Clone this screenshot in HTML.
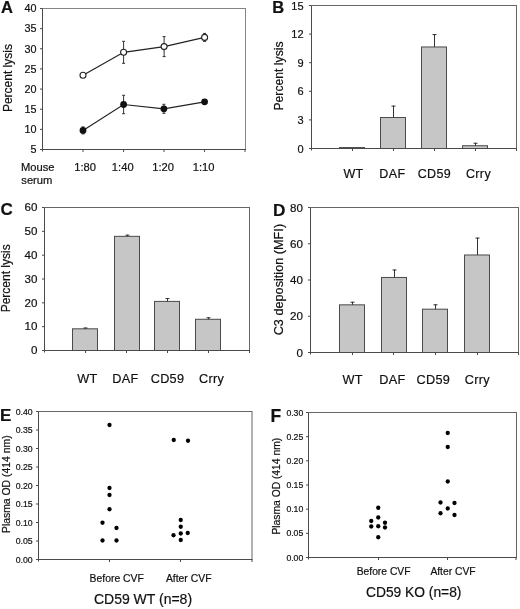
<!DOCTYPE html>
<html><head><meta charset="utf-8"><title>Figure</title>
<style>
html,body{margin:0;padding:0;background:#fff;}
body{width:520px;height:609px;overflow:hidden;}
svg{display:block;will-change:transform;font-family:"Liberation Sans",sans-serif;}
text{fill:#111;stroke:#111;stroke-width:0.2px;}
</style></head><body>
<svg width="520" height="609" viewBox="0 0 520 609">
<rect width="520" height="609" fill="#fff"/>
<line x1="42.5" y1="8.5" x2="245.5" y2="8.5" stroke="#858585" stroke-width="1"/>
<line x1="245.5" y1="8.0" x2="245.5" y2="149.5" stroke="#858585" stroke-width="1"/>
<line x1="42.5" y1="8.5" x2="42.5" y2="151.5" stroke="#4a4a4a" stroke-width="1"/>
<line x1="40.5" y1="149.5" x2="246.0" y2="149.5" stroke="#4a4a4a" stroke-width="1"/>
<line x1="40.0" y1="149.5" x2="42.5" y2="149.5" stroke="#4a4a4a" stroke-width="1"/>
<text x="36.4" y="153.3" font-size="10.8" text-anchor="end" font-weight="normal" >5</text>
<line x1="40.0" y1="129.35714285714286" x2="42.5" y2="129.35714285714286" stroke="#4a4a4a" stroke-width="1"/>
<text x="36.4" y="133.15714285714287" font-size="10.8" text-anchor="end" font-weight="normal" >10</text>
<line x1="40.0" y1="109.21428571428572" x2="42.5" y2="109.21428571428572" stroke="#4a4a4a" stroke-width="1"/>
<text x="36.4" y="113.01428571428572" font-size="10.8" text-anchor="end" font-weight="normal" >15</text>
<line x1="40.0" y1="89.07142857142857" x2="42.5" y2="89.07142857142857" stroke="#4a4a4a" stroke-width="1"/>
<text x="36.4" y="92.87142857142857" font-size="10.8" text-anchor="end" font-weight="normal" >20</text>
<line x1="40.0" y1="68.92857142857143" x2="42.5" y2="68.92857142857143" stroke="#4a4a4a" stroke-width="1"/>
<text x="36.4" y="72.72857142857143" font-size="10.8" text-anchor="end" font-weight="normal" >25</text>
<line x1="40.0" y1="48.78571428571429" x2="42.5" y2="48.78571428571429" stroke="#4a4a4a" stroke-width="1"/>
<text x="36.4" y="52.58571428571429" font-size="10.8" text-anchor="end" font-weight="normal" >30</text>
<line x1="40.0" y1="28.64285714285714" x2="42.5" y2="28.64285714285714" stroke="#4a4a4a" stroke-width="1"/>
<text x="36.4" y="32.442857142857136" font-size="10.8" text-anchor="end" font-weight="normal" >35</text>
<line x1="40.0" y1="8.5" x2="42.5" y2="8.5" stroke="#4a4a4a" stroke-width="1"/>
<text x="36.4" y="12.3" font-size="10.8" text-anchor="end" font-weight="normal" >40</text>
<line x1="83" y1="149.5" x2="83" y2="152.0" stroke="#4a4a4a" stroke-width="1"/>
<line x1="123.6" y1="149.5" x2="123.6" y2="152.0" stroke="#4a4a4a" stroke-width="1"/>
<line x1="164" y1="149.5" x2="164" y2="152.0" stroke="#4a4a4a" stroke-width="1"/>
<line x1="204.6" y1="149.5" x2="204.6" y2="152.0" stroke="#4a4a4a" stroke-width="1"/>
<line x1="245" y1="149.5" x2="245" y2="152.0" stroke="#4a4a4a" stroke-width="1"/>
<text x="1" y="12.8" font-size="16.5" text-anchor="start" font-weight="bold" >A</text>
<text transform="translate(11.5,78.1) rotate(-90)" font-size="12" text-anchor="middle">Percent lysis</text>
<text x="21.0" y="171.4" font-size="11.2" text-anchor="start" font-weight="normal" >Mouse</text>
<text x="21.3" y="183.6" font-size="11.2" text-anchor="start" font-weight="normal" >serum</text>
<text x="85.1" y="171.3" font-size="11.2" text-anchor="middle" font-weight="normal" >1:80</text>
<text x="122.75" y="171.3" font-size="11.2" text-anchor="middle" font-weight="normal" >1:40</text>
<text x="163.1" y="171.3" font-size="11.2" text-anchor="middle" font-weight="normal" >1:20</text>
<text x="203.6" y="171.3" font-size="11.2" text-anchor="middle" font-weight="normal" >1:10</text>
<path d="M83,75.2 L123.6,52.3 L164.1,46.6 L204.6,37.4" fill="none" stroke="#222" stroke-width="1.2"/>
<line x1="123.6" y1="41.3" x2="123.6" y2="63.3" stroke="#333" stroke-width="1"/>
<line x1="122.1" y1="41.3" x2="125.1" y2="41.3" stroke="#333" stroke-width="1"/>
<line x1="122.1" y1="63.3" x2="125.1" y2="63.3" stroke="#333" stroke-width="1"/>
<line x1="164.1" y1="36.6" x2="164.1" y2="56.6" stroke="#333" stroke-width="1"/>
<line x1="162.6" y1="36.6" x2="165.6" y2="36.6" stroke="#333" stroke-width="1"/>
<line x1="162.6" y1="56.6" x2="165.6" y2="56.6" stroke="#333" stroke-width="1"/>
<line x1="204.6" y1="33.4" x2="204.6" y2="41.4" stroke="#333" stroke-width="1"/>
<line x1="203.1" y1="33.4" x2="206.1" y2="33.4" stroke="#333" stroke-width="1"/>
<line x1="203.1" y1="41.4" x2="206.1" y2="41.4" stroke="#333" stroke-width="1"/>
<path d="M83,130.4 L123.6,104.5 L163.9,108.8 L204.6,101.8" fill="none" stroke="#222" stroke-width="1.2"/>
<line x1="83" y1="126.9" x2="83" y2="133.9" stroke="#333" stroke-width="1"/>
<line x1="81.5" y1="126.9" x2="84.5" y2="126.9" stroke="#333" stroke-width="1"/>
<line x1="81.5" y1="133.9" x2="84.5" y2="133.9" stroke="#333" stroke-width="1"/>
<line x1="123.6" y1="95.3" x2="123.6" y2="113.7" stroke="#333" stroke-width="1"/>
<line x1="122.1" y1="95.3" x2="125.1" y2="95.3" stroke="#333" stroke-width="1"/>
<line x1="122.1" y1="113.7" x2="125.1" y2="113.7" stroke="#333" stroke-width="1"/>
<line x1="163.9" y1="104.3" x2="163.9" y2="113.3" stroke="#333" stroke-width="1"/>
<line x1="162.4" y1="104.3" x2="165.4" y2="104.3" stroke="#333" stroke-width="1"/>
<line x1="162.4" y1="113.3" x2="165.4" y2="113.3" stroke="#333" stroke-width="1"/>
<circle cx="83" cy="75.2" r="3" fill="#fff" stroke="#222" stroke-width="1.1"/>
<circle cx="123.6" cy="52.3" r="3" fill="#fff" stroke="#222" stroke-width="1.1"/>
<circle cx="164.1" cy="46.6" r="3" fill="#fff" stroke="#222" stroke-width="1.1"/>
<circle cx="204.6" cy="37.4" r="3" fill="#fff" stroke="#222" stroke-width="1.1"/>
<circle cx="83" cy="130.4" r="3.4" fill="#111"/>
<circle cx="123.6" cy="104.5" r="3.4" fill="#111"/>
<circle cx="163.9" cy="108.8" r="3.4" fill="#111"/>
<circle cx="204.6" cy="101.8" r="3.4" fill="#111"/>
<line x1="311.5" y1="5.5" x2="516.5" y2="5.5" stroke="#666666" stroke-width="1"/>
<line x1="516.5" y1="5.0" x2="516.5" y2="148.5" stroke="#666666" stroke-width="1"/>
<line x1="311.5" y1="5.5" x2="311.5" y2="150.5" stroke="#4a4a4a" stroke-width="1"/>
<line x1="309.5" y1="148.5" x2="517.0" y2="148.5" stroke="#4a4a4a" stroke-width="1"/>
<line x1="309.0" y1="148.5" x2="311.5" y2="148.5" stroke="#4a4a4a" stroke-width="1"/>
<text x="303.6" y="152.5" font-size="11" text-anchor="end" font-weight="normal" >0</text>
<line x1="309.0" y1="119.9" x2="311.5" y2="119.9" stroke="#4a4a4a" stroke-width="1"/>
<text x="303.6" y="123.9" font-size="11" text-anchor="end" font-weight="normal" >3</text>
<line x1="309.0" y1="91.3" x2="311.5" y2="91.3" stroke="#4a4a4a" stroke-width="1"/>
<text x="303.6" y="95.3" font-size="11" text-anchor="end" font-weight="normal" >6</text>
<line x1="309.0" y1="62.7" x2="311.5" y2="62.7" stroke="#4a4a4a" stroke-width="1"/>
<text x="303.6" y="66.7" font-size="11" text-anchor="end" font-weight="normal" >9</text>
<line x1="309.0" y1="34.099999999999994" x2="311.5" y2="34.099999999999994" stroke="#4a4a4a" stroke-width="1"/>
<text x="303.6" y="38.099999999999994" font-size="11" text-anchor="end" font-weight="normal" >12</text>
<line x1="309.0" y1="5.5" x2="311.5" y2="5.5" stroke="#4a4a4a" stroke-width="1"/>
<text x="303.6" y="9.5" font-size="11" text-anchor="end" font-weight="normal" >15</text>
<text x="272.2" y="13.0" font-size="16.5" text-anchor="start" font-weight="bold" >B</text>
<text transform="translate(282.5,76.0) rotate(-90)" font-size="12.2" text-anchor="middle">Percent lysis</text>
<rect x="339.5" y="147.54666666666665" width="25.0" height="0.9533333333333474" fill="#c6c6c6" stroke="#4a4a4a" stroke-width="1"/>
<rect x="380.5" y="117.51666666666667" width="25.0" height="30.983333333333334" fill="#c6c6c6" stroke="#4a4a4a" stroke-width="1"/>
<line x1="393.5" y1="105.6" x2="393.5" y2="117.51666666666667" stroke="#333" stroke-width="1"/>
<line x1="391.5" y1="106.1" x2="395.5" y2="106.1" stroke="#333" stroke-width="1"/>
<rect x="421.5" y="46.97" width="25.0" height="101.53" fill="#c6c6c6" stroke="#4a4a4a" stroke-width="1"/>
<line x1="434.5" y1="34.099999999999994" x2="434.5" y2="46.97" stroke="#333" stroke-width="1"/>
<line x1="432.5" y1="34.599999999999994" x2="436.5" y2="34.599999999999994" stroke="#333" stroke-width="1"/>
<rect x="462.5" y="145.73533333333333" width="25.0" height="2.7646666666666704" fill="#c6c6c6" stroke="#4a4a4a" stroke-width="1"/>
<line x1="475.5" y1="142.78" x2="475.5" y2="145.73533333333333" stroke="#333" stroke-width="1"/>
<line x1="473.5" y1="143.28" x2="477.5" y2="143.28" stroke="#333" stroke-width="1"/>
<line x1="352.5" y1="148.5" x2="352.5" y2="151.0" stroke="#4a4a4a" stroke-width="1"/>
<line x1="393.5" y1="148.5" x2="393.5" y2="151.0" stroke="#4a4a4a" stroke-width="1"/>
<line x1="434.5" y1="148.5" x2="434.5" y2="151.0" stroke="#4a4a4a" stroke-width="1"/>
<line x1="475.5" y1="148.5" x2="475.5" y2="151.0" stroke="#4a4a4a" stroke-width="1"/>
<line x1="516.5" y1="148.5" x2="516.5" y2="151.0" stroke="#4a4a4a" stroke-width="1"/>
<text x="353.5" y="177.8" font-size="12.5" text-anchor="middle" font-weight="normal" letter-spacing="0.35">WT</text>
<text x="392.4" y="177.8" font-size="12.5" text-anchor="middle" font-weight="normal" letter-spacing="0.35">DAF</text>
<text x="434.4" y="177.8" font-size="12.5" text-anchor="middle" font-weight="normal" letter-spacing="0.35">CD59</text>
<text x="478.5" y="177.8" font-size="12.5" text-anchor="middle" font-weight="normal" letter-spacing="0.35">Crry</text>
<line x1="44.5" y1="207.5" x2="249.5" y2="207.5" stroke="#666666" stroke-width="1"/>
<line x1="249.5" y1="207.0" x2="249.5" y2="350.5" stroke="#666666" stroke-width="1"/>
<line x1="44.5" y1="207.5" x2="44.5" y2="352.5" stroke="#4a4a4a" stroke-width="1"/>
<line x1="42.5" y1="350.5" x2="250.0" y2="350.5" stroke="#4a4a4a" stroke-width="1"/>
<line x1="42.0" y1="350.5" x2="44.5" y2="350.5" stroke="#4a4a4a" stroke-width="1"/>
<text x="37.5" y="354.2" font-size="11.6" text-anchor="end" font-weight="normal" >0</text>
<line x1="42.0" y1="326.6666666666667" x2="44.5" y2="326.6666666666667" stroke="#4a4a4a" stroke-width="1"/>
<text x="37.5" y="330.3666666666667" font-size="11.6" text-anchor="end" font-weight="normal" >10</text>
<line x1="42.0" y1="302.8333333333333" x2="44.5" y2="302.8333333333333" stroke="#4a4a4a" stroke-width="1"/>
<text x="37.5" y="306.5333333333333" font-size="11.6" text-anchor="end" font-weight="normal" >20</text>
<line x1="42.0" y1="279.0" x2="44.5" y2="279.0" stroke="#4a4a4a" stroke-width="1"/>
<text x="37.5" y="282.7" font-size="11.6" text-anchor="end" font-weight="normal" >30</text>
<line x1="42.0" y1="255.16666666666669" x2="44.5" y2="255.16666666666669" stroke="#4a4a4a" stroke-width="1"/>
<text x="37.5" y="258.8666666666667" font-size="11.6" text-anchor="end" font-weight="normal" >40</text>
<line x1="42.0" y1="231.33333333333331" x2="44.5" y2="231.33333333333331" stroke="#4a4a4a" stroke-width="1"/>
<text x="37.5" y="235.0333333333333" font-size="11.6" text-anchor="end" font-weight="normal" >50</text>
<line x1="42.0" y1="207.5" x2="44.5" y2="207.5" stroke="#4a4a4a" stroke-width="1"/>
<text x="37.5" y="211.2" font-size="11.6" text-anchor="end" font-weight="normal" >60</text>
<text x="0.6" y="215.3" font-size="17" text-anchor="start" font-weight="bold" >C</text>
<text transform="translate(10.4,278.3) rotate(-90)" font-size="12.0" text-anchor="middle">Percent lysis</text>
<rect x="72.5" y="328.81166666666667" width="25.0" height="21.688333333333333" fill="#c6c6c6" stroke="#4a4a4a" stroke-width="1"/>
<line x1="85.5" y1="327.50083333333333" x2="85.5" y2="328.81166666666667" stroke="#333" stroke-width="1"/>
<line x1="83.5" y1="328.00083333333333" x2="87.5" y2="328.00083333333333" stroke="#333" stroke-width="1"/>
<rect x="114.5" y="236.33833333333334" width="25.0" height="114.16166666666666" fill="#c6c6c6" stroke="#4a4a4a" stroke-width="1"/>
<line x1="127.5" y1="234.67000000000002" x2="127.5" y2="236.33833333333334" stroke="#333" stroke-width="1"/>
<line x1="125.5" y1="235.17000000000002" x2="129.5" y2="235.17000000000002" stroke="#333" stroke-width="1"/>
<rect x="154.5" y="301.4033333333333" width="25.0" height="49.09666666666669" fill="#c6c6c6" stroke="#4a4a4a" stroke-width="1"/>
<line x1="167.5" y1="298.06666666666666" x2="167.5" y2="301.4033333333333" stroke="#333" stroke-width="1"/>
<line x1="165.5" y1="298.56666666666666" x2="169.5" y2="298.56666666666666" stroke="#333" stroke-width="1"/>
<rect x="195.5" y="319.2783333333333" width="25.0" height="31.221666666666692" fill="#c6c6c6" stroke="#4a4a4a" stroke-width="1"/>
<line x1="208.5" y1="317.2525" x2="208.5" y2="319.2783333333333" stroke="#333" stroke-width="1"/>
<line x1="206.5" y1="317.7525" x2="210.5" y2="317.7525" stroke="#333" stroke-width="1"/>
<line x1="85.5" y1="350.5" x2="85.5" y2="353.0" stroke="#4a4a4a" stroke-width="1"/>
<line x1="126.5" y1="350.5" x2="126.5" y2="353.0" stroke="#4a4a4a" stroke-width="1"/>
<line x1="167.5" y1="350.5" x2="167.5" y2="353.0" stroke="#4a4a4a" stroke-width="1"/>
<line x1="208.5" y1="350.5" x2="208.5" y2="353.0" stroke="#4a4a4a" stroke-width="1"/>
<line x1="249.5" y1="350.5" x2="249.5" y2="353.0" stroke="#4a4a4a" stroke-width="1"/>
<text x="87.45" y="383.0" font-size="12.7" text-anchor="middle" font-weight="normal" letter-spacing="0.3">WT</text>
<text x="125.5" y="383.0" font-size="12.7" text-anchor="middle" font-weight="normal" letter-spacing="0.3">DAF</text>
<text x="167.5" y="383.0" font-size="12.7" text-anchor="middle" font-weight="normal" letter-spacing="0.3">CD59</text>
<text x="211.7" y="383.0" font-size="12.7" text-anchor="middle" font-weight="normal" letter-spacing="0.3">Crry</text>
<line x1="310.5" y1="207.5" x2="518.5" y2="207.5" stroke="#666666" stroke-width="1"/>
<line x1="518.5" y1="207.0" x2="518.5" y2="352.5" stroke="#666666" stroke-width="1"/>
<line x1="310.5" y1="207.5" x2="310.5" y2="354.5" stroke="#4a4a4a" stroke-width="1"/>
<line x1="308.5" y1="352.5" x2="519.0" y2="352.5" stroke="#4a4a4a" stroke-width="1"/>
<line x1="308.0" y1="352.5" x2="310.5" y2="352.5" stroke="#4a4a4a" stroke-width="1"/>
<text x="303.0" y="356.7" font-size="11.6" text-anchor="end" font-weight="normal" >0</text>
<line x1="308.0" y1="316.25" x2="310.5" y2="316.25" stroke="#4a4a4a" stroke-width="1"/>
<text x="303.0" y="320.45" font-size="11.6" text-anchor="end" font-weight="normal" >20</text>
<line x1="308.0" y1="280.0" x2="310.5" y2="280.0" stroke="#4a4a4a" stroke-width="1"/>
<text x="303.0" y="284.2" font-size="11.6" text-anchor="end" font-weight="normal" >40</text>
<line x1="308.0" y1="243.75" x2="310.5" y2="243.75" stroke="#4a4a4a" stroke-width="1"/>
<text x="303.0" y="247.95" font-size="11.6" text-anchor="end" font-weight="normal" >60</text>
<line x1="308.0" y1="207.5" x2="310.5" y2="207.5" stroke="#4a4a4a" stroke-width="1"/>
<text x="303.0" y="211.7" font-size="11.6" text-anchor="end" font-weight="normal" >80</text>
<text x="273.0" y="215.6" font-size="17.2" text-anchor="start" font-weight="bold" >D</text>
<text transform="translate(283.3,279.6) rotate(-90)" font-size="12.7" text-anchor="middle">C3 deposition (MFI)</text>
<rect x="339.5" y="304.83125" width="25.0" height="47.66874999999999" fill="#c6c6c6" stroke="#4a4a4a" stroke-width="1"/>
<line x1="352.5" y1="301.75" x2="352.5" y2="304.83125" stroke="#333" stroke-width="1"/>
<line x1="350.5" y1="302.25" x2="354.5" y2="302.25" stroke="#333" stroke-width="1"/>
<rect x="381.5" y="277.4625" width="25.0" height="75.03750000000002" fill="#c6c6c6" stroke="#4a4a4a" stroke-width="1"/>
<line x1="394.5" y1="269.4875" x2="394.5" y2="277.4625" stroke="#333" stroke-width="1"/>
<line x1="392.5" y1="269.9875" x2="396.5" y2="269.9875" stroke="#333" stroke-width="1"/>
<rect x="422.5" y="309.18125" width="25.0" height="43.31875000000002" fill="#c6c6c6" stroke="#4a4a4a" stroke-width="1"/>
<line x1="435.5" y1="304.2875" x2="435.5" y2="309.18125" stroke="#333" stroke-width="1"/>
<line x1="433.5" y1="304.7875" x2="437.5" y2="304.7875" stroke="#333" stroke-width="1"/>
<rect x="464.5" y="254.9875" width="25.0" height="97.51249999999999" fill="#c6c6c6" stroke="#4a4a4a" stroke-width="1"/>
<line x1="477.5" y1="237.5875" x2="477.5" y2="254.9875" stroke="#333" stroke-width="1"/>
<line x1="475.5" y1="238.0875" x2="479.5" y2="238.0875" stroke="#333" stroke-width="1"/>
<line x1="352.5" y1="352.5" x2="352.5" y2="355.0" stroke="#4a4a4a" stroke-width="1"/>
<line x1="393.5" y1="352.5" x2="393.5" y2="355.0" stroke="#4a4a4a" stroke-width="1"/>
<line x1="435.5" y1="352.5" x2="435.5" y2="355.0" stroke="#4a4a4a" stroke-width="1"/>
<line x1="477.5" y1="352.5" x2="477.5" y2="355.0" stroke="#4a4a4a" stroke-width="1"/>
<line x1="518.5" y1="352.5" x2="518.5" y2="355.0" stroke="#4a4a4a" stroke-width="1"/>
<text x="352.7" y="383.5" font-size="12.7" text-anchor="middle" font-weight="normal" letter-spacing="0.3">WT</text>
<text x="392.4" y="383.5" font-size="12.7" text-anchor="middle" font-weight="normal" letter-spacing="0.3">DAF</text>
<text x="433.4" y="383.5" font-size="12.7" text-anchor="middle" font-weight="normal" letter-spacing="0.3">CD59</text>
<text x="477.3" y="383.5" font-size="12.7" text-anchor="middle" font-weight="normal" letter-spacing="0.3">Crry</text>
<line x1="38.5" y1="411.5" x2="252.0" y2="411.5" stroke="#666666" stroke-width="1"/>
<line x1="252.0" y1="411.0" x2="252.0" y2="559.5" stroke="#666666" stroke-width="1"/>
<line x1="38.5" y1="411.5" x2="38.5" y2="561.5" stroke="#4a4a4a" stroke-width="1"/>
<line x1="36.5" y1="559.5" x2="252.5" y2="559.5" stroke="#4a4a4a" stroke-width="1"/>
<line x1="36.0" y1="559.5" x2="38.5" y2="559.5" stroke="#4a4a4a" stroke-width="1"/>
<text x="32.6" y="562.6" font-size="8.7" text-anchor="end" font-weight="normal" >0.00</text>
<line x1="36.0" y1="541.0" x2="38.5" y2="541.0" stroke="#4a4a4a" stroke-width="1"/>
<text x="32.6" y="544.1" font-size="8.7" text-anchor="end" font-weight="normal" >0.05</text>
<line x1="36.0" y1="522.5" x2="38.5" y2="522.5" stroke="#4a4a4a" stroke-width="1"/>
<text x="32.6" y="525.6" font-size="8.7" text-anchor="end" font-weight="normal" >0.10</text>
<line x1="36.0" y1="504.0" x2="38.5" y2="504.0" stroke="#4a4a4a" stroke-width="1"/>
<text x="32.6" y="507.1" font-size="8.7" text-anchor="end" font-weight="normal" >0.15</text>
<line x1="36.0" y1="485.5" x2="38.5" y2="485.5" stroke="#4a4a4a" stroke-width="1"/>
<text x="32.6" y="488.6" font-size="8.7" text-anchor="end" font-weight="normal" >0.20</text>
<line x1="36.0" y1="467.0" x2="38.5" y2="467.0" stroke="#4a4a4a" stroke-width="1"/>
<text x="32.6" y="470.1" font-size="8.7" text-anchor="end" font-weight="normal" >0.25</text>
<line x1="36.0" y1="448.5" x2="38.5" y2="448.5" stroke="#4a4a4a" stroke-width="1"/>
<text x="32.6" y="451.6" font-size="8.7" text-anchor="end" font-weight="normal" >0.30</text>
<line x1="36.0" y1="430.0" x2="38.5" y2="430.0" stroke="#4a4a4a" stroke-width="1"/>
<text x="32.6" y="433.1" font-size="8.7" text-anchor="end" font-weight="normal" >0.35</text>
<line x1="36.0" y1="411.5" x2="38.5" y2="411.5" stroke="#4a4a4a" stroke-width="1"/>
<text x="32.6" y="414.6" font-size="8.7" text-anchor="end" font-weight="normal" >0.40</text>
<line x1="109.5" y1="559.5" x2="109.5" y2="562.0" stroke="#4a4a4a" stroke-width="1"/>
<line x1="180.5" y1="559.5" x2="180.5" y2="562.0" stroke="#4a4a4a" stroke-width="1"/>
<line x1="252" y1="559.5" x2="252" y2="562.0" stroke="#4a4a4a" stroke-width="1"/>
<text x="0" y="420.8" font-size="17" text-anchor="start" font-weight="bold" >E</text>
<text transform="translate(9.7,484.2) rotate(-90)" font-size="10.4" text-anchor="middle">Plasma OD (414 nm)</text>
<circle cx="109.5" cy="425" r="2.15" fill="#000"/>
<circle cx="109.5" cy="488" r="2.15" fill="#000"/>
<circle cx="109.5" cy="495" r="2.15" fill="#000"/>
<circle cx="109.5" cy="509.25" r="2.15" fill="#000"/>
<circle cx="102.5" cy="522.75" r="2.15" fill="#000"/>
<circle cx="116.5" cy="528" r="2.15" fill="#000"/>
<circle cx="102.5" cy="540.5" r="2.15" fill="#000"/>
<circle cx="116.5" cy="540.5" r="2.15" fill="#000"/>
<circle cx="173.75" cy="440" r="2.15" fill="#000"/>
<circle cx="188" cy="440.75" r="2.15" fill="#000"/>
<circle cx="180.75" cy="520" r="2.15" fill="#000"/>
<circle cx="180.75" cy="526.75" r="2.15" fill="#000"/>
<circle cx="173.5" cy="535.25" r="2.15" fill="#000"/>
<circle cx="180.75" cy="533.5" r="2.15" fill="#000"/>
<circle cx="187.75" cy="533" r="2.15" fill="#000"/>
<circle cx="180.75" cy="540" r="2.15" fill="#000"/>
<text x="116.7" y="581.7" font-size="10.4" text-anchor="middle" font-weight="normal" >Before CVF</text>
<text x="188.7" y="581.7" font-size="10.4" text-anchor="middle" font-weight="normal" >After CVF</text>
<text x="143.0" y="604.0" font-size="14" text-anchor="middle" font-weight="normal" >CD59 WT (n=8)</text>
<line x1="308.5" y1="412.5" x2="516.5" y2="412.5" stroke="#666666" stroke-width="1"/>
<line x1="516.5" y1="412.0" x2="516.5" y2="557.5" stroke="#666666" stroke-width="1"/>
<line x1="308.5" y1="412.5" x2="308.5" y2="559.5" stroke="#4a4a4a" stroke-width="1"/>
<line x1="306.5" y1="557.5" x2="517.0" y2="557.5" stroke="#4a4a4a" stroke-width="1"/>
<line x1="306.0" y1="557.5" x2="308.5" y2="557.5" stroke="#4a4a4a" stroke-width="1"/>
<text x="303.3" y="560.6" font-size="8.7" text-anchor="end" font-weight="normal" >0.00</text>
<line x1="306.0" y1="533.3333333333334" x2="308.5" y2="533.3333333333334" stroke="#4a4a4a" stroke-width="1"/>
<text x="303.3" y="536.4333333333334" font-size="8.7" text-anchor="end" font-weight="normal" >0.05</text>
<line x1="306.0" y1="509.16666666666663" x2="308.5" y2="509.16666666666663" stroke="#4a4a4a" stroke-width="1"/>
<text x="303.3" y="512.2666666666667" font-size="8.7" text-anchor="end" font-weight="normal" >0.10</text>
<line x1="306.0" y1="485.0" x2="308.5" y2="485.0" stroke="#4a4a4a" stroke-width="1"/>
<text x="303.3" y="488.1" font-size="8.7" text-anchor="end" font-weight="normal" >0.15</text>
<line x1="306.0" y1="460.8333333333333" x2="308.5" y2="460.8333333333333" stroke="#4a4a4a" stroke-width="1"/>
<text x="303.3" y="463.93333333333334" font-size="8.7" text-anchor="end" font-weight="normal" >0.20</text>
<line x1="306.0" y1="436.66666666666663" x2="308.5" y2="436.66666666666663" stroke="#4a4a4a" stroke-width="1"/>
<text x="303.3" y="439.76666666666665" font-size="8.7" text-anchor="end" font-weight="normal" >0.25</text>
<line x1="306.0" y1="412.5" x2="308.5" y2="412.5" stroke="#4a4a4a" stroke-width="1"/>
<text x="303.3" y="415.6" font-size="8.7" text-anchor="end" font-weight="normal" >0.30</text>
<line x1="378.5" y1="557.5" x2="378.5" y2="560.0" stroke="#4a4a4a" stroke-width="1"/>
<line x1="447.5" y1="557.5" x2="447.5" y2="560.0" stroke="#4a4a4a" stroke-width="1"/>
<line x1="516" y1="557.5" x2="516" y2="560.0" stroke="#4a4a4a" stroke-width="1"/>
<text x="270.5" y="421.8" font-size="17.5" text-anchor="start" font-weight="bold" >F</text>
<text transform="translate(279.9,486.2) rotate(-90)" font-size="10.3" text-anchor="middle">Plasma OD (414 nm)</text>
<circle cx="378.25" cy="507.75" r="2.15" fill="#000"/>
<circle cx="378.25" cy="517.5" r="2.15" fill="#000"/>
<circle cx="371.25" cy="521" r="2.15" fill="#000"/>
<circle cx="385" cy="522.75" r="2.15" fill="#000"/>
<circle cx="371.25" cy="526.5" r="2.15" fill="#000"/>
<circle cx="378.25" cy="526.25" r="2.15" fill="#000"/>
<circle cx="385" cy="527.5" r="2.15" fill="#000"/>
<circle cx="378.25" cy="537.25" r="2.15" fill="#000"/>
<circle cx="447.75" cy="433" r="2.15" fill="#000"/>
<circle cx="447.75" cy="447" r="2.15" fill="#000"/>
<circle cx="447.75" cy="481.5" r="2.15" fill="#000"/>
<circle cx="440.5" cy="502.5" r="2.15" fill="#000"/>
<circle cx="454.5" cy="503" r="2.15" fill="#000"/>
<circle cx="447.75" cy="508.5" r="2.15" fill="#000"/>
<circle cx="440.5" cy="513.25" r="2.15" fill="#000"/>
<circle cx="454.5" cy="515" r="2.15" fill="#000"/>
<text x="383.6" y="574.8" font-size="10.3" text-anchor="middle" font-weight="normal" >Before CVF</text>
<text x="453.0" y="574.8" font-size="10.3" text-anchor="middle" font-weight="normal" >After CVF</text>
<text x="413.7" y="596.9" font-size="13.8" text-anchor="middle" font-weight="normal" >CD59 KO (n=8)</text>
</svg>
</body></html>
